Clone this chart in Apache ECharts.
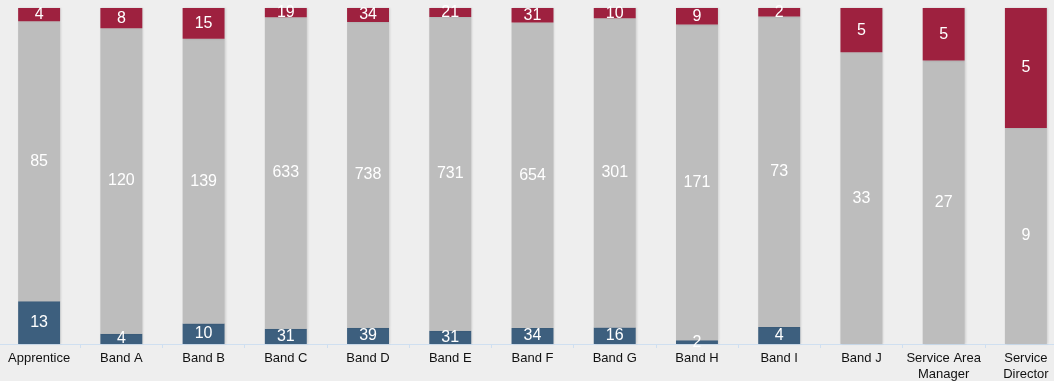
<!DOCTYPE html>
<html><head><meta charset="utf-8">
<script src="https://cdn.jsdelivr.net/npm/echarts@6/dist/echarts.min.js"></script>
<style>html,body{margin:0;padding:0;background:#eeeeee;}#c{width:1054px;height:381px;}</style>
</head><body><div id="c"></div>
<script>
const categories = ['Apprentice','Band A','Band B','Band C','Band D','Band E','Band F','Band G','Band H','Band I','Band J','Service Area\nManager','Service\nDirector'];
const blueValues = [13,4,10,31,39,31,34,16,2,4,0,0,0];
const greyValues = [85,120,139,633,738,731,654,301,171,73,33,27,9];
const redValues  = [4,8,15,19,34,21,31,10,9,2,5,5,5];

const totals = categories.map((_, i) => blueValues[i] + greyValues[i] + redValues[i]);
const pct = arr => arr.map((v, i) => ({ value: v / totals[i] * 100, raw: v }));

const chart = echarts.init(document.getElementById('c'));
const mk = (name, arr, color) => ({
  name, type: 'bar', stack: 'all', barWidth: '51%',
  data: pct(arr),
  itemStyle: { color, shadowColor: 'rgba(0,0,0,0.12)', shadowBlur: 2, shadowOffsetX: 1 },
  label: {
    show: true, position: 'inside', color: '#ffffff', fontSize: 16,
    fontFamily: 'Liberation Sans, Arial, sans-serif',
    formatter: p => p.data.raw === 0 ? '' : String(p.data.raw)
  }
});
chart.setOption({
  backgroundColor: '#eeeeee',
  animation: false,
  grid: { left: -2, width: 1069, top: 8, bottom: 37, containLabel: false, outerBoundsMode: 'none' },
  xAxis: {
    type: 'category', data: categories,
    axisLine: { lineStyle: { color: '#cfdff0', width: 1 } },
    axisTick: { show: true, alignWithLabel: false, length: 4, lineStyle: { color: '#cfdff0' } },
    axisLabel: { color: '#111111', fontSize: 13, fontFamily: 'Liberation Sans, Arial, sans-serif', interval: 0, margin: 6, lineHeight: 16 }
  },
  yAxis: { type: 'value', min: 0, max: 100, show: false, splitLine: { show: false } },
  series: [
    mk('Blue', blueValues, '#3d5f7e'),
    mk('Grey', greyValues, '#bdbdbd'),
    mk('Red', redValues, '#9e213f')
  ]
});
</script></body></html>
